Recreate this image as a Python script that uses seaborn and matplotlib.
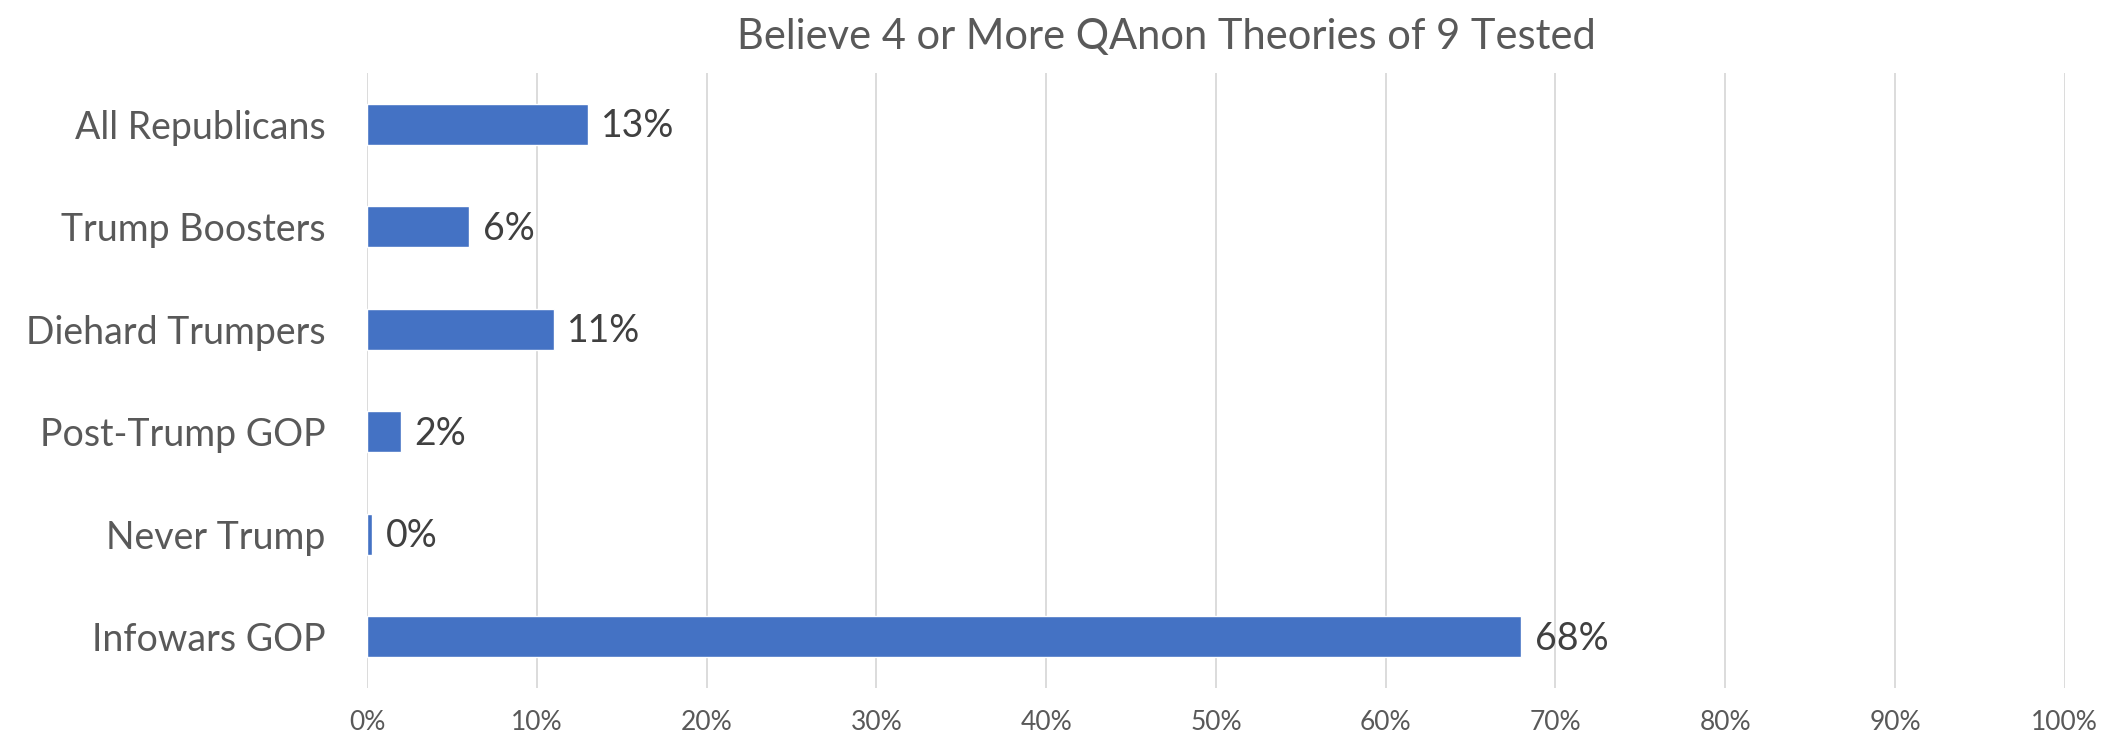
import matplotlib
matplotlib.use("Agg")
import matplotlib.pyplot as plt
import seaborn as sns
import pandas as pd
from matplotlib.ticker import PercentFormatter

GROUPS = ["All Republicans", "Trump Boosters", "Diehard Trumpers",
          "Post-Trump GOP", "Never Trump", "Infowars GOP"]
SHARE = [13, 6, 11, 2, 0.3, 68]
LABELS = ["13%", "6%", "11%", "2%", "0%", "68%"]
TICKS = list(range(0, 101, 10))

BAR_COLOR = "#4472C4"
TEXT_COLOR = "#595959"

sns.set_theme(style="white")
plt.rcParams["font.family"] = ["Lato", "DejaVu Sans"]

df = pd.DataFrame({"group": GROUPS, "share": SHARE})

fig = plt.figure(figsize=(21.22, 7.43), dpi=100)
ax = fig.add_axes([0.173, 0.074, 0.8, 0.828])

sns.barplot(data=df, x="share", y="group", orient="h", color=BAR_COLOR,
            saturation=1, width=0.4, ax=ax)

# data labels just past the bar ends
for i, (v, lab) in enumerate(zip(SHARE, LABELS)):
    ax.text(v + 0.8, i + 0.02, lab, va="center", ha="left", fontsize=27, color="#404040")

ax.set_xlim(0, 100)
ax.set_ylim(5.5, -0.5)
ax.set_xticks(TICKS)
ax.xaxis.set_major_formatter(PercentFormatter(decimals=0))
ax.grid(axis="x", color="#D9D9D9", linewidth=1.3)
ax.set_axisbelow(True)
for s in ax.spines.values():
    s.set_visible(False)
ax.set_xlabel("")
ax.set_ylabel("")
ax.tick_params(axis="x", labelsize=19, colors=TEXT_COLOR, length=0, pad=16)
ax.tick_params(axis="y", labelsize=27, colors=TEXT_COLOR, length=0, pad=30)

fig.text(0.5495, 0.95, "Believe 4 or More QAnon Theories of 9 Tested",
         ha="center", va="center", fontsize=30, color=TEXT_COLOR)

fig.savefig("out.png", dpi=100)
